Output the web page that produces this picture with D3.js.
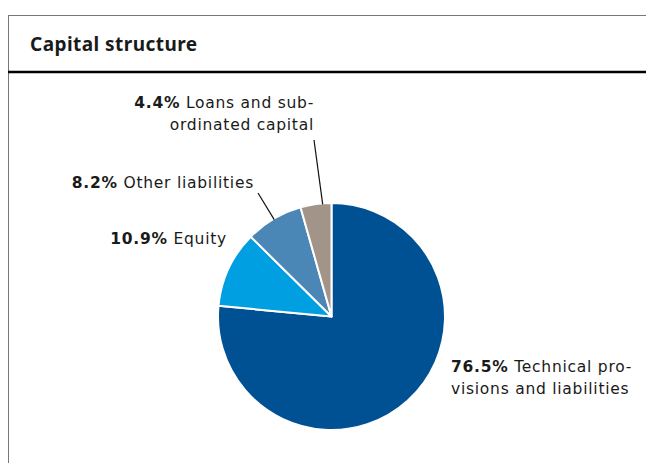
<!DOCTYPE html>
<html>
<head>
<meta charset="utf-8">
<script src="https://cdn.jsdelivr.net/npm/d3@7"></script>
<style>
  body { margin: 0; background: #fff; }
  text { fill: #1a1a1a; }
  .title { font-family: "Noto Sans", sans-serif; }
  .lbl { font-family: "DejaVu Sans", sans-serif; }
</style>
</head>
<body>
<div id="vis"></div>
<script>
const width = 646;
const height = 463;

// data
const shares = [76.5, 10.9, 8.2, 4.4];
const pctLabels = ["76.5%", "10.9%", "8.2%", "4.4%"];
const nameLines = [
  ["Technical pro-", "visions and liabilities"],
  ["Equity"],
  ["Other liabilities"],
  ["Loans and sub-", "ordinated capital"]
];
const colors = ["#005193", "#009fe1", "#4a86b6", "#a29489"];

// label layout: anchor x, first baseline y, text-anchor, leader line start
const labelPos = [
  { x: 451, y: 372, anchor: "start", leader: null },
  { x: 227, y: 244, anchor: "end", leader: null },
  { x: 254, y: 188, anchor: "end", leader: [258, 193] },
  { x: 314, y: 108, anchor: "end", leader: [314, 140] }
];

const cx = 331.5, cy = 316.5, radius = 113.5;

const svg = d3.select("#vis").append("svg")
  .attr("width", width)
  .attr("height", height);

// frame
svg.append("line").attr("x1", 8.5).attr("x2", width).attr("y1", 15.5).attr("y2", 15.5)
  .attr("stroke", "#777").attr("stroke-width", 1);
svg.append("line").attr("x1", 8.5).attr("x2", 8.5).attr("y1", 15).attr("y2", height)
  .attr("stroke", "#777").attr("stroke-width", 1);
svg.append("line").attr("x1", 8).attr("x2", width).attr("y1", 72).attr("y2", 72)
  .attr("stroke", "#000").attr("stroke-width", 2.5);

svg.append("text")
  .attr("class", "title")
  .attr("x", 30).attr("y", 51)
  .style("font-size", "19px").style("font-weight", "bold")
  .style("letter-spacing", "0.45px")
  .text("Capital structure");

const pie = d3.pie().sort(null).value(d => d);
const arcs = pie(shares);
const arc = d3.arc().innerRadius(0).outerRadius(radius);

const g = svg.append("g").attr("transform", `translate(${cx},${cy})`);
g.selectAll("path").data(arcs).enter().append("path")
  .attr("d", arc)
  .attr("fill", (d, i) => colors[i])
  .attr("stroke", "#fff")
  .attr("stroke-width", 2)
  .attr("stroke-linejoin", "round");

// leader lines
arcs.forEach((d, i) => {
  const lp = labelPos[i];
  if (!lp.leader) return;
  const a = (d.startAngle + d.endAngle) / 2 + (i === 3 ? 0.06 : 0);
  const ex = cx + (radius - 1) * Math.sin(a);
  const ey = cy - (radius - 1) * Math.cos(a);
  svg.append("line")
    .attr("x1", lp.leader[0]).attr("y1", lp.leader[1])
    .attr("x2", ex).attr("y2", ey)
    .attr("stroke", "#111").attr("stroke-width", 1.2);
});

// labels
arcs.forEach((d, i) => {
  const lp = labelPos[i];
  const t = svg.append("text")
    .attr("class", "lbl")
    .attr("x", lp.x).attr("y", lp.y)
    .attr("text-anchor", lp.anchor)
    .style("font-size", "15.5px")
    .style("letter-spacing", "0.75px");
  t.append("tspan").style("font-weight", "bold").text(pctLabels[i]);
  t.append("tspan").text(" " + nameLines[i][0]);
  for (let k = 1; k < nameLines[i].length; k++) {
    t.append("tspan").attr("x", lp.x).attr("dy", 21.5).text(nameLines[i][k]);
  }
});
</script>
</body>
</html>
